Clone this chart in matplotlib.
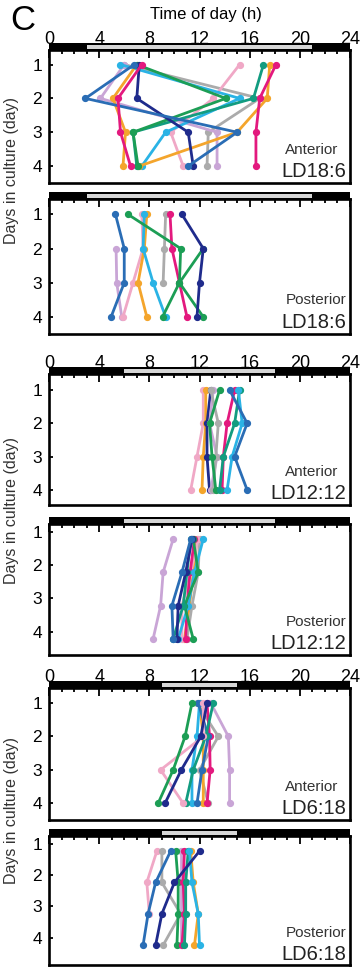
"""
Daily peak times of clock reporter in cultured explants under three photoperiods
(Anterior / Posterior, LD18:6, LD12:12, LD6:18)
"""

import matplotlib.pyplot as plt
from matplotlib.patches import Rectangle

plt.rcParams['font.family'] = ['Liberation Sans', 'DejaVu Sans']

nan = float('nan')
DAYS = [1, 2, 3, 4]

BLUE = '#2a6db5'
NAVY = '#1f2b8c'
MAGENTA = '#e3197e'
GREEN = '#1c9e55'
TEAL = '#129c80'
ORANGE = '#f4a52c'
CYAN = '#2ab3e5'
GRAY = '#ababab'
PINK = '#f0a8c6'
LILAC = '#c9a5d6'

# peak time (h) on days 1-4, one row per explant
ANT_18_6 = [
    (GRAY,    [6.0, 16.8, 12.7, 12.6]),
    (PINK,    [15.2, 13.1, 9.7, 10.7]),
    (LILAC,   [6.0, 4.1, 13.4, 13.4]),
    (CYAN,    [5.7, 15.2, 9.3, 7.4]),
    (ORANGE,  [7.0, 5.1, 6.1, 5.9]),
    (ORANGE,  [17.6, 17.4, 15.0, 7.2]),
    (TEAL,    [17.1, 16.3, 6.7, 7.0]),
    (GREEN,   [7.0, 14.1, 6.7, 7.1]),
    (NAVY,    [7.2, 7.0, 11.1, 11.5]),
    (BLUE,    [6.8, 2.9, 15.0, 11.1]),
    (MAGENTA, [18.1, 16.8, 16.5, 16.5]),
    (MAGENTA, [7.4, 5.5, 5.7, 6.5]),
]

POST_18_6 = [
    (LILAC,   [nan, 5.35, 5.4, 5.8]),
    (PINK,    [7.4, 7.5, 6.7, 5.9]),
    (GRAY,    [9.3, 9.2, 9.1, nan]),
    (ORANGE,  [7.8, 7.6, 7.1, 7.8]),
    (CYAN,    [7.6, 7.5, 8.3, 9.3]),
    (BLUE,    [5.3, 6.0, 6.0, 4.95]),
    (MAGENTA, [9.65, 9.8, 10.4, 11.0]),
    (GREEN,   [6.3, 10.5, 10.4, 12.3]),
    (GREEN,   [nan, 12.3, 10.4, 9.05]),
    (NAVY,    [10.6, 12.3, 12.0, 11.8]),
]

ANT_12_12 = [
    (PINK,    [12.3, 12.3, 11.8, 11.3]),
    (ORANGE,  [12.5, 12.5, 12.3, 12.2]),
    (NAVY,    [12.9, 12.6, 12.6, 12.8]),
    (LILAC,   [13.1, 12.8, 13.4, 12.9]),
    (GRAY,    [12.9, 13.5, 13.3, 13.1]),
    (GREEN,   [13.6, 12.8, 13.0, 13.3]),
    (MAGENTA, [14.8, 14.2, 13.9, 13.8]),
    (TEAL,    [15.2, 14.8, 13.9, 13.6]),
    (CYAN,    [15.1, 15.4, 14.6, 14.2]),
    (BLUE,    [14.4, 15.8, 14.8, 15.8]),
]

POST_12_12 = [
    (LILAC,   [9.9, 9.1, 8.9, 8.3]),
    (ORANGE,  [11.8, 11.5, 11.2, 10.8]),
    (GRAY,    [12.0, 11.9, 11.4, 11.0]),
    (PINK,    [11.9, 11.3, 10.6, 10.6]),
    (MAGENTA, [11.6, 11.25, 11.0, 10.9]),
    (CYAN,    [12.3, 11.6, 11.1, 10.3]),
    (GREEN,   [11.5, 11.9, 10.8, 11.5]),
    (TEAL,    [11.3, 11.0, 10.7, 9.9]),
    (NAVY,    [11.4, 10.9, 10.3, 10.2]),
    (BLUE,    [11.3, 10.6, 9.8, 9.9]),
]

ANT_6_18 = [
    (LILAC,   [12.9, 14.3, 14.4, 14.4]),
    (GRAY,    [11.8, 13.5, 12.0, 12.7]),
    (ORANGE,  [12.0, 12.3, 12.3, 12.3]),
    (MAGENTA, [12.6, 12.8, 12.85, 12.6]),
    (CYAN,    [12.0, 11.8, 11.4, 11.4]),
    (BLUE,    [11.9, 12.7, 12.2, 11.8]),
    (TEAL,    [13.1, 12.5, 11.5, 10.9]),
    (PINK,    [12.3, 12.3, 8.9, 10.7]),
    (NAVY,    [12.6, 12.1, 10.55, 9.25]),
    (GREEN,   [11.4, 10.85, 9.9, 8.7]),
]

POST_6_18 = [
    (PINK,    [8.6, 7.8, 8.0, nan]),
    (GRAY,    [9.0, 9.0, 10.5, 9.1]),
    (LILAC,   [10.5, 10.5, 10.5, 10.5]),
    (GREEN,   [10.1, 10.3, 10.3, 10.2]),
    (MAGENTA, [10.8, 10.7, 10.8, 10.6]),
    (TEAL,    [11.1, 10.9, 10.9, 10.8]),
    (ORANGE,  [11.3, 11.5, 11.9, 11.6]),
    (CYAN,    [11.2, 11.4, 11.9, 12.0]),
    (BLUE,    [9.7, 8.5, 7.9, 7.5]),
    (NAVY,    [12.0, 10.0, 9.0, 8.5]),
]

PANELS = [ANT_18_6, POST_18_6, ANT_12_12, POST_12_12, ANT_6_18, POST_6_18]
REGIONS = ['Anterior', 'Posterior'] * 3
PHOTOPERIODS = ['LD18:6', 'LD18:6', 'LD12:12', 'LD12:12', 'LD6:18', 'LD6:18']
LIGHT_ON = [3, 3, 6, 6, 9, 9]
LIGHT_OFF = [21, 21, 18, 18, 15, 15]

# layout, in pixels of the 363x967 picture
W, H = 363, 967
LEFT, RIGHT = 49, 350
BOXES = [(50, 183), (199, 334), (374, 505), (524, 655), (688, 820), (836, 965)]
YLIMS = [(4.5, 0.57), (4.5, 0.55), (4.45, 0.52), (4.48, 0.55), (4.5, 0.55), (4.63, 0.52)]
TICK_SHIFT = [0, 0, 0, 0.22, 0, 0.24]   # the day labels sit a bit high in some panels
BAR_PX = 7

fig = plt.figure(figsize=(W / 100, H / 100), dpi=100)

for i, series in enumerate(PANELS):
    top, bot = BOXES[i]
    ax = fig.add_axes([LEFT / W, 1 - bot / H, (RIGHT - LEFT) / W, (bot - top) / H])
    for color, hours in series:
        ax.plot(hours, DAYS, '-o', color=color, lw=2.0, ms=4.2, clip_on=False)

    ax.set_xlim(0, 24)
    ax.set_ylim(*YLIMS[i])
    ax.set_xticks(range(0, 25, 4))
    ax.set_xticks(range(0, 25, 1), minor=True)
    ax.tick_params(axis='x', which='both', direction='in', top=True, bottom=False,
                   labelbottom=False, labeltop=(i % 2 == 0), labelsize=13,
                   pad=1.5, width=1.3)
    ax.tick_params(axis='x', which='major', length=5.5)
    ax.tick_params(axis='x', which='minor', length=3)
    ax.set_yticks([d - TICK_SHIFT[i] for d in DAYS])
    ax.set_yticklabels([str(d) for d in DAYS])
    ax.tick_params(axis='y', direction='in', length=3, width=1.3, labelsize=12.5, pad=5)
    for s in ax.spines.values():
        s.set_linewidth(1.9)

    # light/dark bar on top
    h = BAR_PX / (bot - top)
    tr = ax.get_xaxis_transform()
    ax.add_patch(Rectangle((0, 1), 24, h, transform=tr, facecolor='black',
                           edgecolor='none', clip_on=False))
    ax.add_patch(Rectangle((LIGHT_ON[i], 1 + h * 0.2), LIGHT_OFF[i] - LIGHT_ON[i], h * 0.45,
                           transform=tr, facecolor='#d6d6d6', edgecolor='none', clip_on=False))

    ax.text(0.96 if i % 2 == 0 else 0.99, 0.25, REGIONS[i], transform=ax.transAxes,
            ha='right', va='center', fontsize=11, color='#333333')
    ax.text(0.988, 0.085, PHOTOPERIODS[i], transform=ax.transAxes,
            ha='right', va='center', fontsize=14.5, color='#222222')

fig.text(206 / W, 1 - 15 / H, 'Time of day (h)', ha='center', va='center', fontsize=12)
fig.text(23 / W, 1 - 21 / H, 'C', ha='center', va='center', fontsize=25)
for yc in [170, 510, 810]:
    fig.text(12 / W, 1 - yc / H, 'Days in culture (day)', rotation=90,
             ha='center', va='center', fontsize=11.5, color='#333333')

fig.savefig('out.png', dpi=100)
